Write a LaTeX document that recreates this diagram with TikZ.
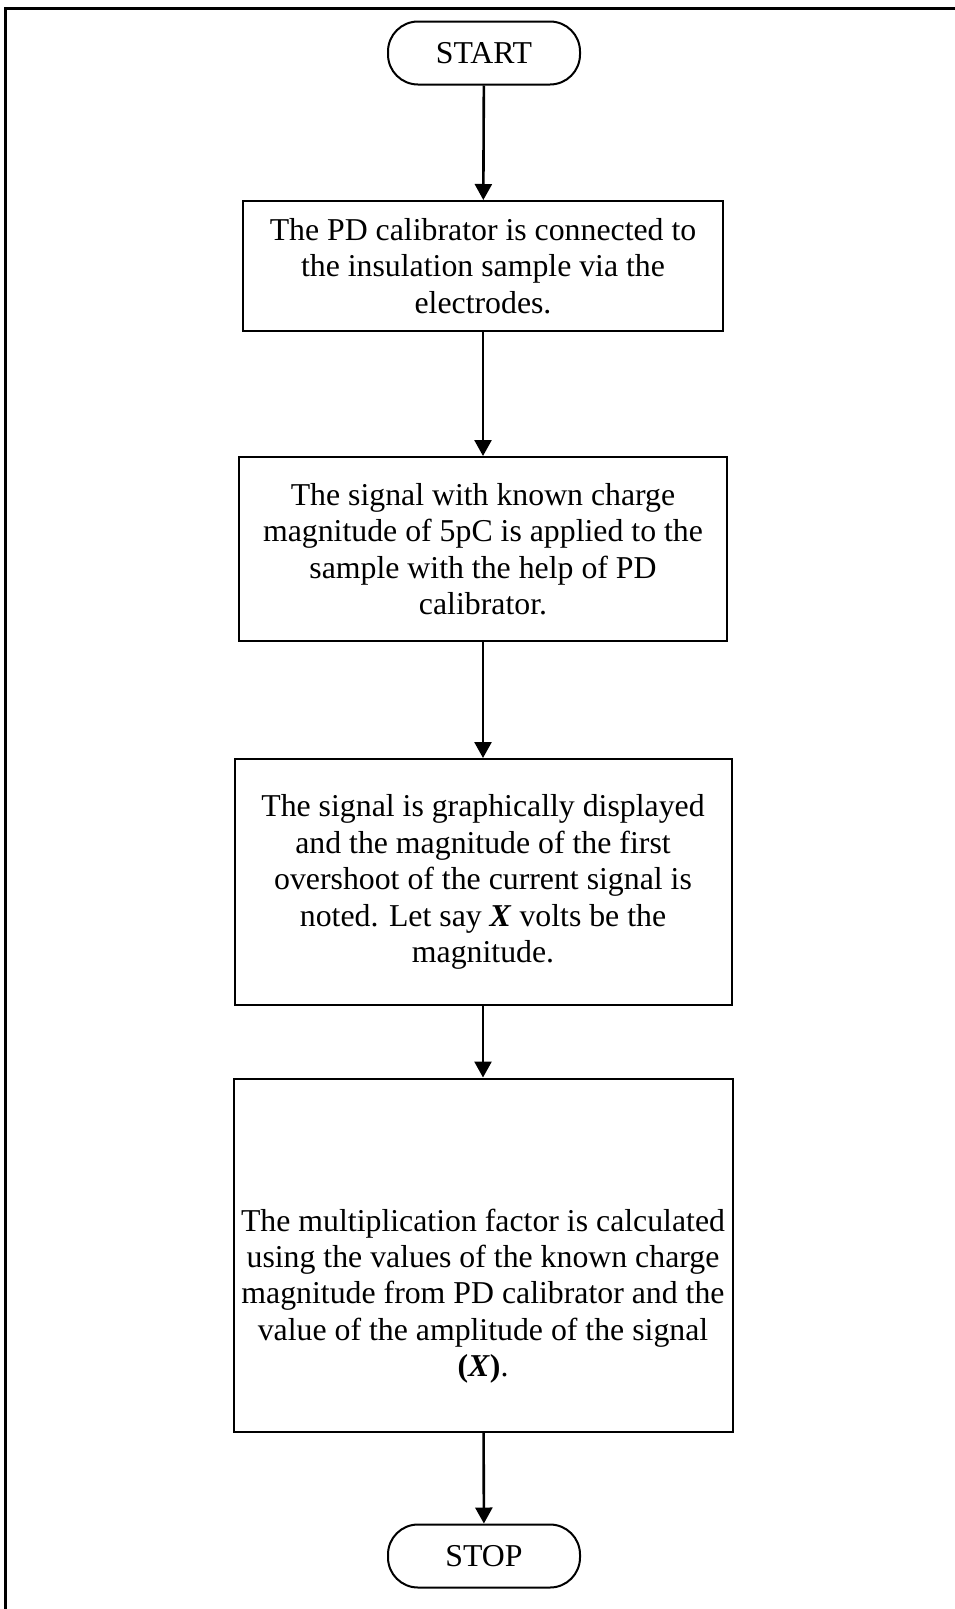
\documentclass[tikz,border=0pt]{standalone}
\usepackage{fontspec}
\setmainfont{Liberation Serif}
\usetikzlibrary{arrows.meta,positioning}

\tikzset{
    terminal/.style={draw, line width=2pt, rounded corners=30pt, minimum width=192pt, minimum height=63pt, font=\fontsize{31.8}{36.4}\selectfont},
    stepbox/.style={draw, line width=2pt, align=center, inner sep=0pt, font=\fontsize{31.8}{36.4}\selectfont},
    flow/.style={line width=2.6pt, -{Triangle[length=16pt,width=17pt]}}
}

\begin{document}
\begin{tikzpicture}[x=1pt,y=-1pt]
    \useasboundingbox (0,0) rectangle (955,1609);
    % outer frame
    \draw[line width=3pt] (5,1612) -- (5,8) -- (958,8);

    \node[terminal] (start) at (484,53) {START};
    \node[stepbox, minimum width=480pt, minimum height=130pt] (connect) at (483,266)
        {The PD calibrator is connected to\\the insulation sample via the\\electrodes.};
    \node[stepbox, minimum width=488pt, minimum height=184pt] (apply) at (483,549)
        {The signal with known charge\\magnitude of 5pC is applied to the\\sample with the help of PD\\calibrator.};
    \node[stepbox, minimum width=497pt, minimum height=246pt] (display) at (483,882)
        {The signal is graphically displayed\\and the magnitude of the first\\overshoot of the current signal is\\noted. Let say \textbf{\textit{X}} volts be the\\magnitude.};
    \node[stepbox, minimum width=499pt, minimum height=353pt] (factor) at (483,1255) {};
    \node[align=center, font=\fontsize{31.8}{36.4}\selectfont] (factortext) at (483,1296)
        {The multiplication factor is calculated\\using the values of the known charge\\magnitude from PD calibrator and the\\value of the amplitude of the signal\\\textbf{(\textit{X})}.};
    \node[terminal] (stop) at (484,1556) {STOP};

    \draw[flow] (start) -- (connect);
    \draw[flow] (connect) -- (apply);
    \draw[flow] (apply) -- (display);
    \draw[flow] (display) -- (factor);
    \draw[flow] (factor) -- (stop);
\end{tikzpicture}
\end{document}
